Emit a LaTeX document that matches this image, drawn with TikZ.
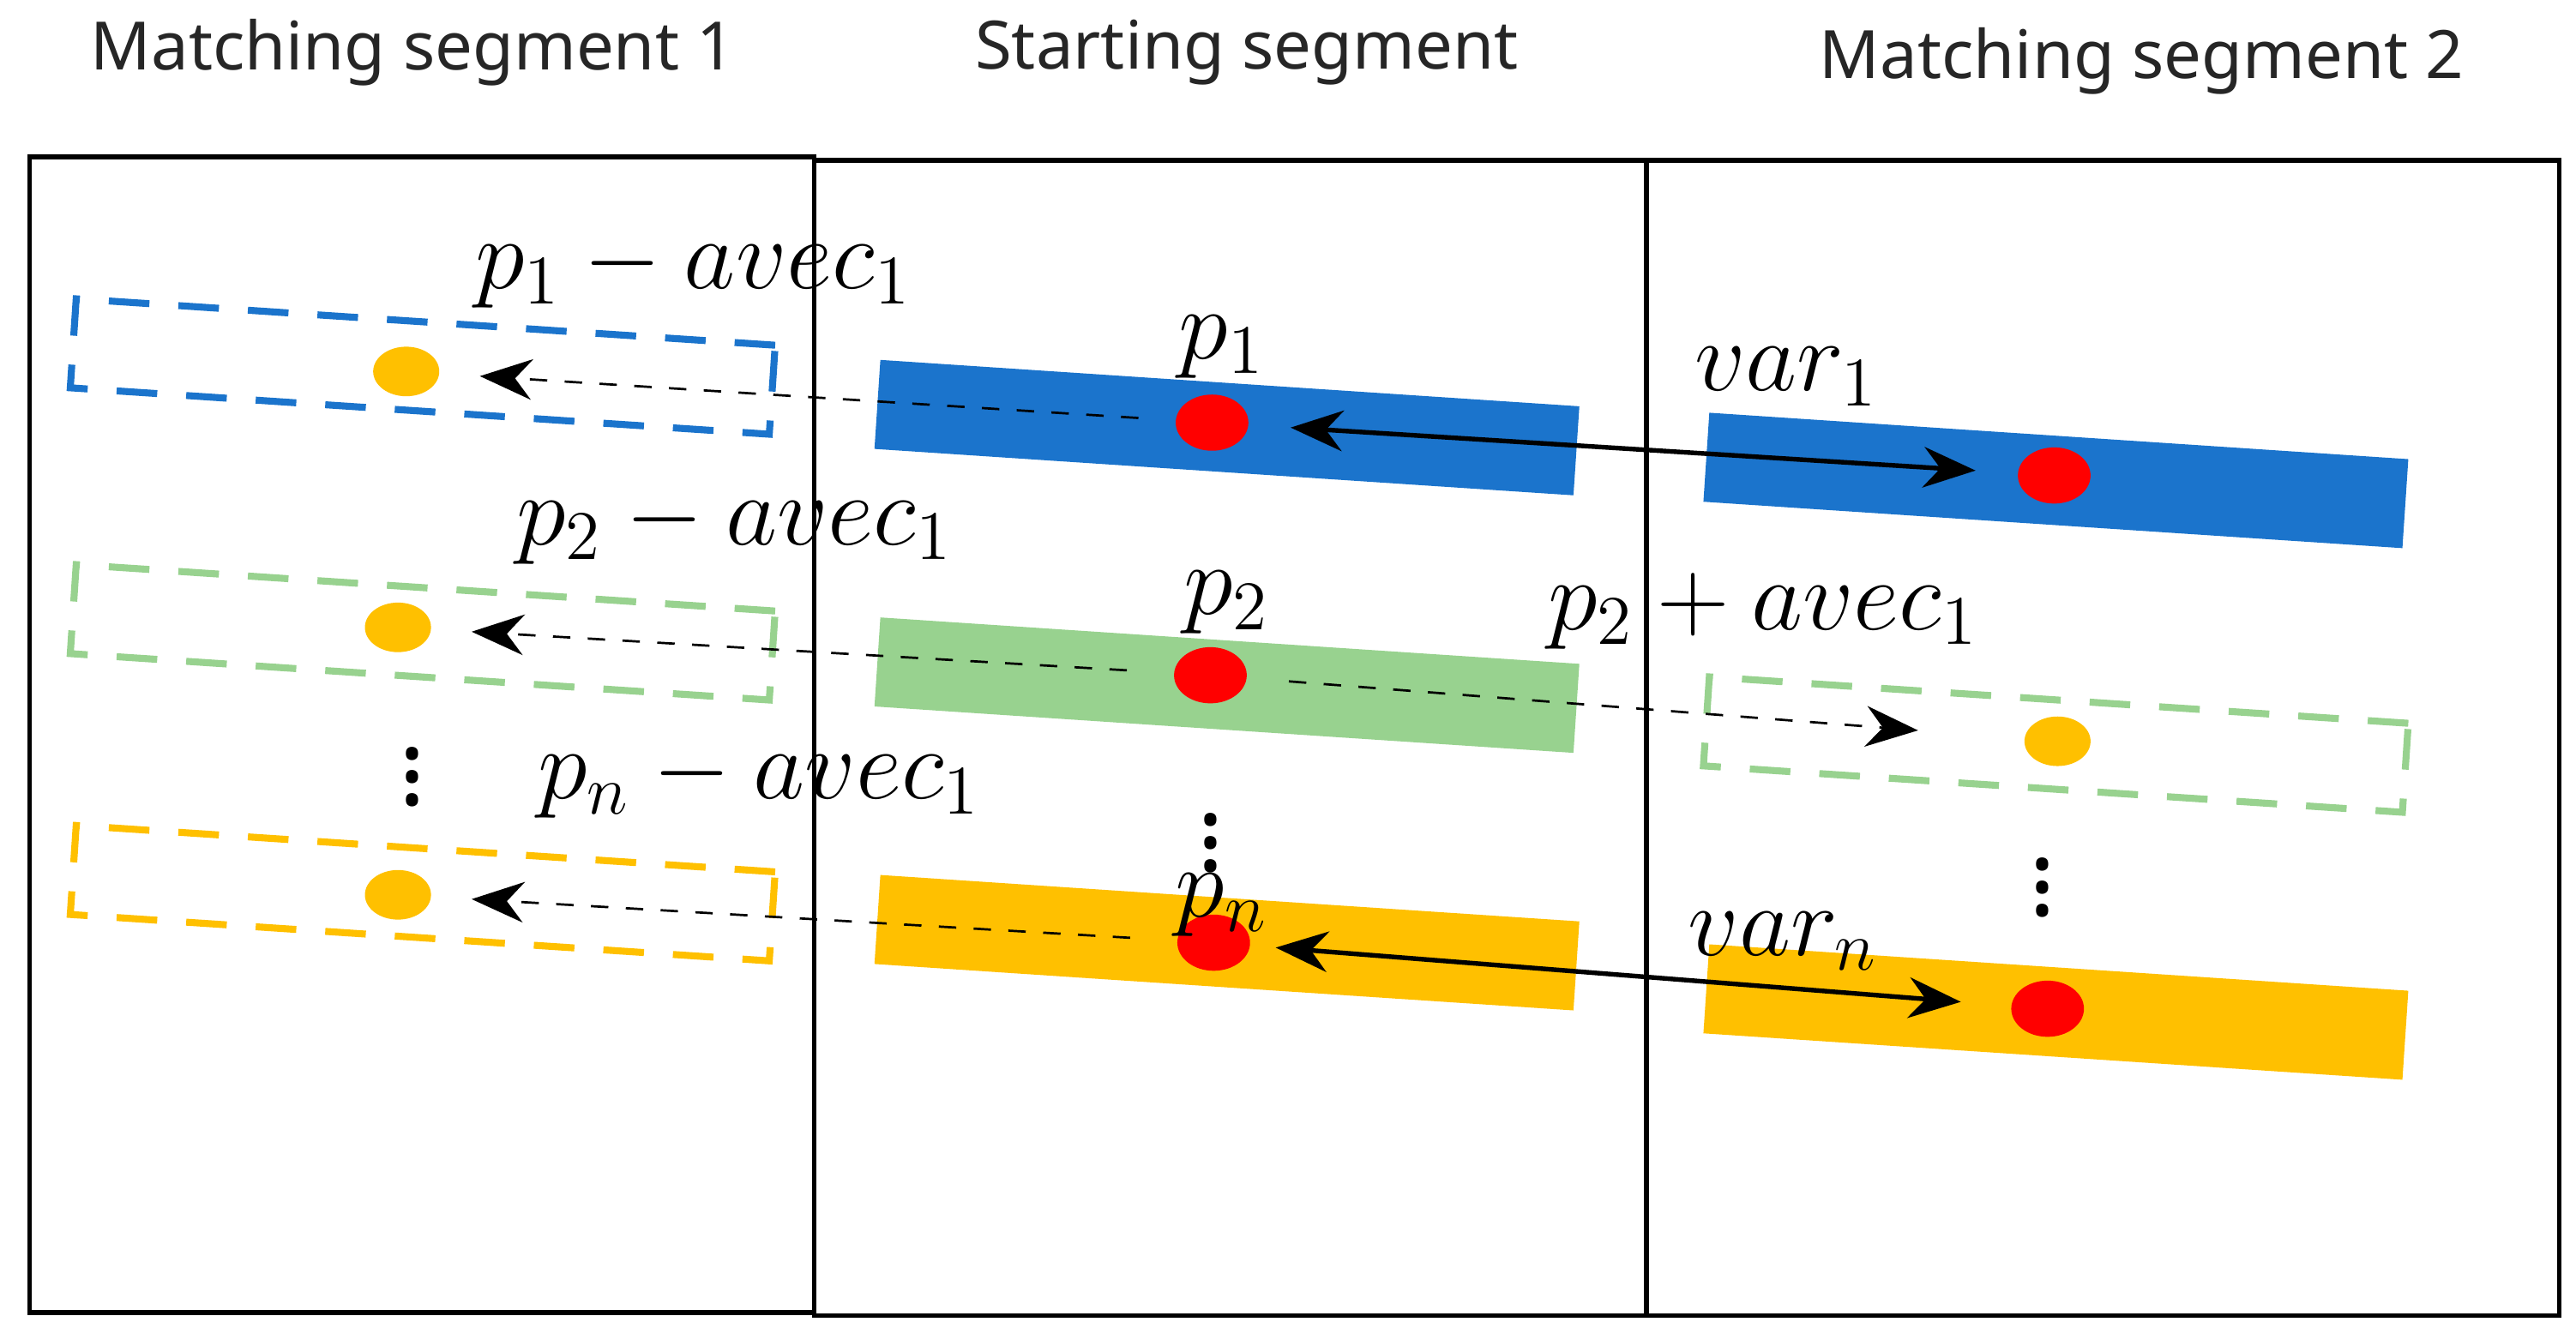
\documentclass[tikz,border=0pt]{standalone}
\usepackage{fontspec}
\setmainfont{Noto Sans}
\usepackage{amsmath}
\usetikzlibrary{arrows.meta,shapes.geometric}
\definecolor{segblue}{HTML}{1B74CC}
\definecolor{seggreen}{HTML}{98D28F}
\definecolor{segyellow}{HTML}{FFC000}
\definecolor{dotred}{HTML}{FF0000}
\tikzset{
  bar/.style={draw=none, fill=#1, rotate=-3.8, minimum width=4.24cm, minimum height=0.54cm, inner sep=0},
  ghost/.style={draw=#1, dashed, line width=1.2pt, dash pattern=on 7pt off 5pt, rotate=-3.8, minimum width=4.24cm, minimum height=0.54cm, inner sep=0},
  pt/.style={ellipse, fill=#1, minimum width=0.44cm, minimum height=0.34cm, inner sep=0},
  offset/.style={dashed, -{Stealth[length=9pt,width=7pt]}},
  match/.style={{Stealth[length=9pt,width=7pt]}-{Stealth[length=9pt,width=7pt]}, thick},
  lbl/.style={font=\fontsize{17}{19}\selectfont},
  ttl/.style={font=\fontsize{11.5}{14}\selectfont, text=black!85}
}
\begin{document}
\begin{tikzpicture}[x=0.01cm, y=-0.01cm]
  \useasboundingbox (0,0) rectangle (1560,808);

  % frames
  \draw[thick] (18,95) rectangle (493,795);
  \draw[thick] (493,97) rectangle (997,797);
  \draw[thick] (997,97) rectangle (1550,797);

  \node[ttl] (t1) at (250,32) {Matching segment 1};
  \node[ttl] (t2) at (755,32) {Starting segment};
  \node[ttl] (t3) at (1297,37) {Matching segment 2};

  % bars
  \node[bar=segblue] (sb1) at (743,259) {};
  \node[bar=seggreen] (sb2) at (743,415) {};
  \node[bar=segyellow] (sbn) at (743,571) {};
  \node[bar=segblue] (rb1) at (1245,291) {};
  \node[ghost=seggreen] (rb2) at (1245,451) {};
  \node[bar=segyellow] (rbn) at (1245,613) {};
  \node[ghost=segblue] (lb1) at (256,222) {};
  \node[ghost=seggreen] (lb2) at (256,383) {};
  \node[ghost=segyellow] (lbn) at (256,541) {};

  % points
  \node[pt=dotred] (s1) at (734,256) {};
  \node[pt=dotred] (s2) at (733,409) {};
  \node[pt=dotred] (sn) at (735,571) {};
  \node[pt=dotred] (r1) at (1244,288) {};
  \node[pt=dotred] (rn) at (1240,611) {};
  \node[pt=segyellow, minimum width=0.4cm, minimum height=0.3cm] (l1) at (246,225) {};
  \node[pt=segyellow, minimum width=0.4cm, minimum height=0.3cm] (l2) at (241,380) {};
  \node[pt=segyellow, minimum width=0.4cm, minimum height=0.3cm] (ln) at (241,542) {};
  \node[pt=segyellow, minimum width=0.4cm, minimum height=0.3cm] (r2) at (1246,449) {};

  % connectors
  \draw[offset, shorten <=0.22cm, shorten >=0.24cm] (s1) -- (l1);
  \draw[offset, shorten <=0.28cm, shorten >=0.24cm] (s2) -- (l2);
  \draw[offset, shorten <=0.28cm, shorten >=0.24cm] (sn) -- (ln);
  \draw[offset, shorten <=0.25cm, shorten >=0.64cm] (s2) -- (r2);
  \draw[match, shorten <=0.25cm, shorten >=0.25cm] (s1) -- (r1);
  \draw[match, shorten <=0.15cm, shorten >=0.3cm] (sn) -- (rn);

  % labels
  \node[lbl] (a1) at (420,163) {$p_1-avec_1$};
  \node[lbl] (a2) at (445,318) {$p_2-avec_1$};
  \node[lbl] (an) at (460,472) {$p_n-avec_1$};
  \node[lbl] (q1) at (740,210) {$p_1$};
  \node[lbl] (q2) at (743,365) {$p_2$};
  \node[lbl] (qn) at (740,548) {$p_n$};
  \node[lbl] (v1) at (1082,228) {$var_1$};
  \node[lbl] (vn) at (1080,570) {$var_n$};
  \node[lbl] (b2) at (1068,370) {$p_2+avec_1$};

  % dots
  \node[lbl] (d1) at (250,460) {$\vdots$};
  \node[lbl] (d2) at (733,500) {$\vdots$};
  \node[lbl] (d3) at (1237,527) {$\vdots$};
\end{tikzpicture}
\end{document}
